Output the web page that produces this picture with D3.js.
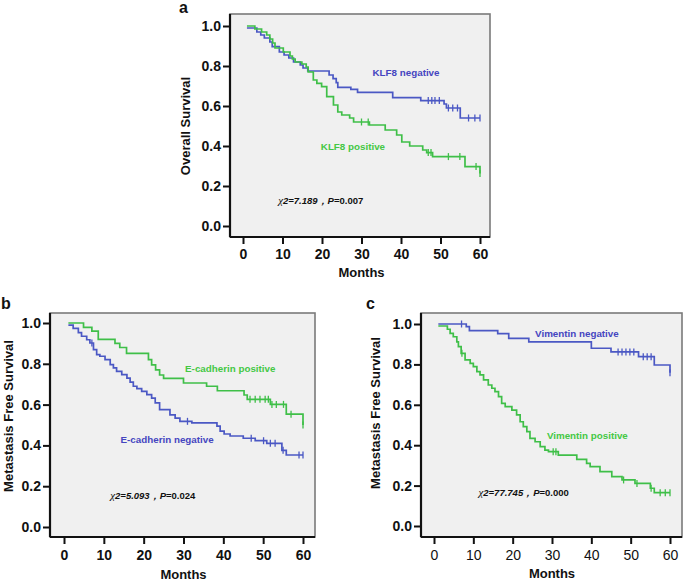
<!DOCTYPE html>
<html><head><meta charset="utf-8">
<script src="https://cdn.jsdelivr.net/npm/d3@7"></script>
<style>body{margin:0;background:#fff} svg{display:block}</style>
</head><body><svg id="chart" width="685" height="582"></svg>
<script>
// ---------- DATA ----------
const xTickValues = [0, 10, 20, 30, 40, 50, 60];
const yTickValues = [0, 0.2, 0.4, 0.6, 0.8, 1.0];

// Panel a: KLF8
const aNegT = [1, 3.5, 4.5, 5.4, 6.8, 7.4, 9.2, 10.4, 11.6, 12.8, 14.5, 15.2, 16.4, 21.8, 22.8, 23.6, 24, 27.3, 29, 37.9, 45, 50.9, 51.5, 55, 60];
const aNegS = [0.99, 0.97, 0.955, 0.94, 0.92, 0.897, 0.87, 0.855, 0.84, 0.82, 0.805, 0.79, 0.775, 0.755, 0.737, 0.717, 0.693, 0.683, 0.668, 0.642, 0.627, 0.61, 0.59, 0.54, 0.54];
const aNegCensor = [46.9, 47.8, 48.6, 49.7, 52.0, 53.1, 54.3, 57.1, 58.7, 60];
const aPosT = [1, 3, 4.7, 6, 6.8, 7.5, 8.1, 10.2, 11.9, 12.5, 13.2, 14.9, 16, 16.5, 17.8, 18.7, 19.9, 21.2, 22.9, 24, 25, 27, 28, 32, 36, 38.9, 40.2, 42.2, 45.5, 46.5, 48, 56.2, 60];
const aPosS = [1.0, 0.985, 0.97, 0.955, 0.935, 0.915, 0.89, 0.87, 0.85, 0.835, 0.82, 0.81, 0.795, 0.77, 0.73, 0.713, 0.697, 0.647, 0.605, 0.57, 0.555, 0.54, 0.52, 0.505, 0.48, 0.455, 0.42, 0.40, 0.38, 0.367, 0.347, 0.297, 0.263];
const aPosCensor = [30, 31.7, 46.9, 47.6, 52, 54.9, 59, 60];

// Panel b: E-cadherin
const bPosT = [1.1, 4.9, 7.0, 8.6, 12.8, 14, 15.7, 21.2, 22, 23, 24, 25, 30, 35.8, 38.5, 45.2, 46, 51.8, 55.8, 60];
const bPosS = [1.0, 0.979, 0.96, 0.92, 0.90, 0.88, 0.851, 0.82, 0.795, 0.77, 0.745, 0.729, 0.706, 0.69, 0.668, 0.647, 0.626, 0.601, 0.553, 0.5];
const bPosCensor = [46.7, 48, 49.2, 50.5, 51.3, 52.2, 53.3, 55.1, 57, 60];
const bNegT = [1.1, 2.3, 3.6, 4.4, 5.7, 6.5, 7.4, 8.2, 9, 10.3, 11.6, 12.4, 13.2, 14.5, 15.8, 16.6, 17.4, 18.3, 19.5, 20.8, 22, 22.9, 24, 26.6, 27.9, 29.1, 32.1, 38.4, 39.2, 40.2, 41.7, 45, 48, 50.9, 54.7, 55.8, 60];
const bNegS = [0.99, 0.974, 0.953, 0.935, 0.918, 0.902, 0.869, 0.845, 0.837, 0.82, 0.796, 0.78, 0.763, 0.747, 0.73, 0.71, 0.69, 0.678, 0.665, 0.649, 0.632, 0.608, 0.575, 0.55, 0.534, 0.518, 0.51, 0.494, 0.47, 0.456, 0.446, 0.435, 0.423, 0.41, 0.376, 0.353, 0.353];
const bNegCensor = [7, 31, 47, 50.1, 51.8, 53, 55, 59, 60];

// Panel c: Vimentin
const cNegT = [1.1, 8.2, 9, 16.2, 19, 24.1, 40, 45, 52, 56, 60];
const cNegS = [1.0, 0.987, 0.967, 0.952, 0.929, 0.912, 0.88, 0.862, 0.838, 0.797, 0.759];
const cNegCensor = [7, 46.8, 47.8, 48.8, 49.8, 50.8, 53.2, 54.2, 55.2, 60];
const cPosT = [1.1, 3.4, 4.1, 4.9, 5.8, 6.2, 6.9, 7.9, 9.2, 10, 10.9, 11.7, 12.6, 13.8, 14.7, 15.5, 16.4, 17.2, 18.1, 19.8, 21, 21.9, 22.7, 23.6, 24.4, 25.7, 27, 28.2, 29.1, 31.6, 36.3, 38.8, 39.7, 42.2, 45.2, 47.8, 51.1, 55, 56, 60];
const cPosS = [0.99, 0.974, 0.954, 0.937, 0.912, 0.888, 0.855, 0.822, 0.805, 0.789, 0.764, 0.748, 0.723, 0.698, 0.682, 0.665, 0.64, 0.607, 0.591, 0.574, 0.55, 0.516, 0.492, 0.467, 0.434, 0.417, 0.393, 0.376, 0.368, 0.351, 0.33, 0.31, 0.294, 0.269, 0.244, 0.228, 0.211, 0.187, 0.165, 0.165];
const cPosCensor = [7.1, 30.3, 31, 48.2, 51.6, 55.2, 57.5, 58.8, 60];

// Texts
const panelLetters = ["a", "b", "c"];
const yTitles = ["Overall Survival", "Metastasis Free Survival", "Metastasis Free Survival"];
const xTitle = "Months";
const aLabels = ["KLF8 negative", "KLF8 positive"];
const bLabels = ["E-cadherin positive", "E-cadherin negative"];
const cLabels = ["Vimentin negative", "Vimentin positive"];
const aStat = ["7.189", "0.007"];
const bStat = ["5.093", "0.024"];
const cStat = ["77.745", "0.000"];

// ---------- DRAW ----------
const svg = d3.select("#chart");
const FONT = "Arial, 'Liberation Sans', Helvetica, sans-serif";
const BLUE = "#4b58c4", GREEN = "#3fbf48";
const BLUE_T = "#4545c0", GREEN_T = "#44c844";

function stepAt(T, S, t) {
  let v = S[0];
  for (let i = 0; i < T.length; i++) if (T[i] <= t + 1e-9) v = S[i];
  return v;
}

function drawPanel(p) {
  const g = svg.append("g");
  const x = d3.scaleLinear().domain([0, 60]).range(p.xr);
  const y = d3.scaleLinear().domain([0, 1]).range(p.yr);
  const f = p.f;
  g.append("rect").attr("x", f.l).attr("y", f.t).attr("width", f.r - f.l).attr("height", f.b - f.t)
    .attr("fill", "#f0f0f0").attr("stroke", "#7a7a7a").attr("stroke-width", 1.6);
  g.append("line").attr("x1", f.l).attr("x2", f.l).attr("y1", f.t).attr("y2", f.b).attr("stroke", "#111").attr("stroke-width", 2.2);
  g.append("line").attr("x1", f.l).attr("x2", f.r).attr("y1", f.b).attr("y2", f.b).attr("stroke", "#111").attr("stroke-width", 2.2);

  const ya = g.append("g").attr("transform", `translate(${f.l},0)`)
    .call(d3.axisLeft(y).tickValues(yTickValues).tickFormat(d3.format(".1f")).tickSize(7).tickPadding(2));
  ya.select(".domain").remove();
  ya.selectAll("line").attr("stroke", "#111").attr("stroke-width", 2);
  ya.selectAll("text").attr("font-family", FONT).attr("font-size", 14).attr("font-weight", "bold").attr("fill", "#111");

  const xa = g.append("g").attr("transform", `translate(0,${f.b})`)
    .call(d3.axisBottom(x).tickValues(xTickValues).tickFormat(d3.format("d")).tickSize(7).tickPadding(p.xpad));
  xa.select(".domain").remove();
  xa.selectAll("line").attr("stroke", "#111").attr("stroke-width", 2);
  xa.selectAll("text").attr("font-family", FONT).attr("font-size", 14).attr("font-weight", p.xBold ? "bold" : "normal").attr("fill", "#111");

  g.append("text").attr("x", (p.xr[0] + p.xr[1]) / 2).attr("y", p.xTitleY).attr("text-anchor", "middle")
    .attr("font-family", FONT).attr("font-size", 13).attr("font-weight", "bold").attr("fill", "#111").text(xTitle);
  g.append("text").attr("transform", `translate(${p.yTitleX},${p.yTitleY}) rotate(-90)`).attr("text-anchor", "middle")
    .attr("dy", "0.36em").attr("font-family", FONT).attr("font-size", 13).attr("font-weight", "bold").attr("fill", "#111").text(p.yTitle);
  g.append("text").attr("x", p.letter[0]).attr("y", p.letter[1]).attr("font-family", FONT).attr("font-size", 16)
    .attr("font-weight", "bold").attr("fill", "#111").text(p.letterText);

  const line = d3.line().x(d => x(d[0])).y(d => y(d[1])).curve(d3.curveStepAfter);
  p.series.forEach(s => {
    g.append("path").datum(d3.zip(s.T, s.S)).attr("d", line).attr("fill", "none")
      .attr("stroke", s.color).attr("stroke-width", 1.7);
    g.selectAll(null).data(s.C).enter().append("line")
      .attr("x1", d => x(d)).attr("x2", d => x(d))
      .attr("y1", d => y(stepAt(s.T, s.S, d)) - 3.5).attr("y2", d => y(stepAt(s.T, s.S, d)) + 3.5)
      .attr("stroke", s.color).attr("stroke-width", 1.3);
  });
  p.labels.forEach(l => {
    g.append("text").attr("x", x(l.t)).attr("y", y(l.s)).attr("dy", "0.36em")
      .attr("font-family", FONT).attr("font-size", 9.8).attr("font-weight", "bold").attr("fill", l.color).text(l.text);
  });
  const st = g.append("text").attr("x", x(p.stat.t)).attr("y", y(p.stat.s)).attr("dy", "0.36em")
    .attr("font-family", FONT).attr("font-size", 9.5).attr("font-weight", "bold").attr("fill", "#111");
  st.append("tspan").attr("font-family", "'Liberation Serif', 'DejaVu Serif', serif").attr("font-style", "italic")
    .attr("font-weight", "normal").attr("font-size", 11).text("χ");
  st.append("tspan").attr("font-style", "italic").text("2=" + p.stat.v[0] + "\uFF0C");
  st.append("tspan").attr("font-style", "italic").text("P");
  st.append("tspan").text("=" + p.stat.v[1]);
}

drawPanel({
  f: { l: 230, t: 14, r: 490, b: 237 }, xr: [243, 480], yr: [226, 26], xpad: 5, xBold: true,
  xTitleY: 277, yTitleX: 185, yTitleY: 126, yTitle: yTitles[0], letter: [179, 13], letterText: panelLetters[0],
  series: [
    { T: aNegT, S: aNegS, C: aNegCensor, color: BLUE },
    { T: aPosT, S: aPosS, C: aPosCensor, color: GREEN }
  ],
  labels: [
    { text: aLabels[0], t: 32.8, s: 0.767, color: BLUE_T },
    { text: aLabels[1], t: 19.7, s: 0.40, color: GREEN_T }
  ],
  stat: { t: 8.9, s: 0.125, v: aStat }
});

drawPanel({
  f: { l: 50, t: 313, r: 315, b: 537 }, xr: [64, 303], yr: [527, 323], xpad: 6, xBold: true,
  xTitleY: 579, yTitleX: 8, yTitleY: 416, yTitle: yTitles[1], letter: [1, 309], letterText: panelLetters[1],
  series: [
    { T: bPosT, S: bPosS, C: bPosCensor, color: GREEN },
    { T: bNegT, S: bNegS, C: bNegCensor, color: BLUE }
  ],
  labels: [
    { text: bLabels[0], t: 30.4, s: 0.775, color: GREEN_T },
    { text: bLabels[1], t: 14.2, s: 0.431, color: BLUE_T }
  ],
  stat: { t: 11.6, s: 0.153, v: bStat }
});

drawPanel({
  f: { l: 421, t: 313, r: 682, b: 537 }, xr: [434, 670], yr: [526, 324], xpad: 6, xBold: false,
  xTitleY: 578, yTitleX: 375, yTitleY: 413, yTitle: yTitles[2], letter: [366, 309], letterText: panelLetters[2],
  series: [
    { T: cNegT, S: cNegS, C: cNegCensor, color: BLUE },
    { T: cPosT, S: cPosS, C: cPosCensor, color: GREEN }
  ],
  labels: [
    { text: cLabels[0], t: 25.7, s: 0.954, color: BLUE_T },
    { text: cLabels[1], t: 28.7, s: 0.447, color: GREEN_T }
  ],
  stat: { t: 11.3, s: 0.167, v: cStat }
});
</script></body></html>
